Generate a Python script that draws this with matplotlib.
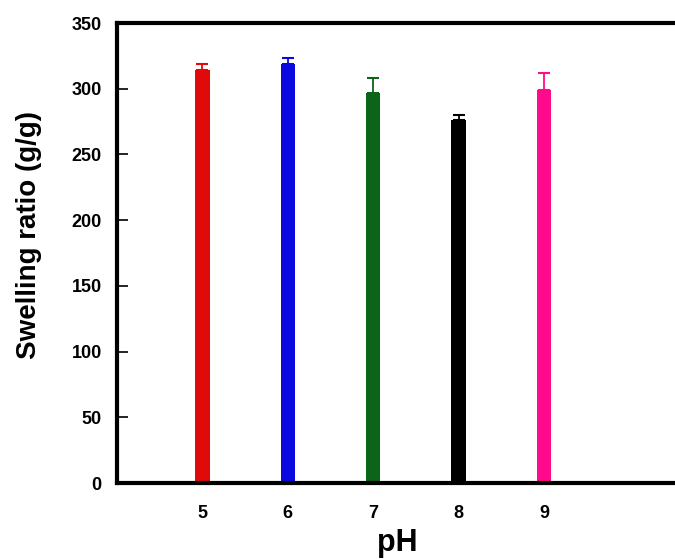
import matplotlib
matplotlib.use("Agg")
import matplotlib.pyplot as plt
import numpy as np

plt.rcParams['font.family'] = ['Liberation Sans', 'DejaVu Sans']

# swelling ratio at each pH
ph = [5, 6, 7, 8, 9]
swelling = [314, 319, 297, 276, 299]
errUp = [5, 4, 11, 4, 13]
barColors = ["#e10a0a", "#0a0ae0", "#0b6418", "#000000", "#ff0a8c"]

fig = plt.figure(figsize=(6.75, 5.59), dpi=100)
# right spine sits at the figure edge
ax = fig.add_axes([117/675, (559-483)/559, (678-117)/675, (483-23)/559])

for x, y, e, c in zip(ph, swelling, errUp, barColors):
    ax.bar(x, y, width=0.17, color=c, zorder=2)
    ax.errorbar(x, y, yerr=[[0], [e]], fmt="none", ecolor=c, elinewidth=1.3,
                capsize=4, capthick=1.5, zorder=3)

ax.set_xlim(4, 10.57)
ax.set_ylim(0, 350)
ax.set_xticks(ph)
ax.set_yticks(np.arange(0, 351, 50))
ax.tick_params(axis="y", direction="in", length=8, width=1.2, pad=11, labelsize=13)
ax.tick_params(axis="x", direction="in", length=0, pad=16, labelsize=13)
for lab in ax.get_xticklabels() + ax.get_yticklabels():
    lab.set_fontweight("bold")

for s in ax.spines.values():
    s.set_linewidth(3)

ax.set_xlabel("pH", fontsize=22, fontweight="bold")
ax.xaxis.set_label_coords(0.5, -0.097)
ax.set_ylabel("Swelling ratio (g/g)", fontsize=20, fontweight="bold")
ax.yaxis.set_label_coords(-0.134, 0.54)

plt.savefig("out.png", dpi=100)
